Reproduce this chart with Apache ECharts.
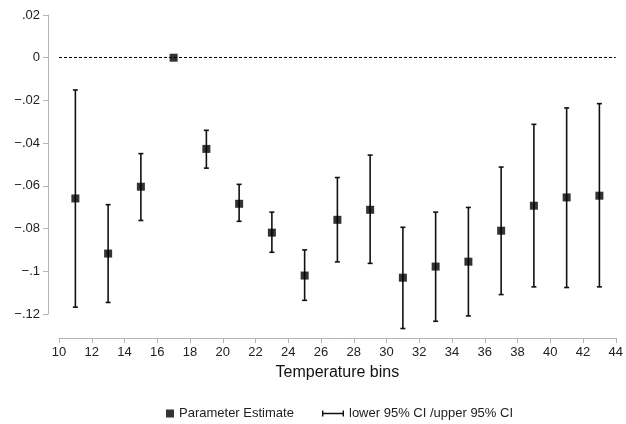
<!DOCTYPE html>
<html><head><meta charset="utf-8">
<script src="https://cdn.jsdelivr.net/npm/echarts@6/dist/echarts.min.js"></script>
<style>html,body{margin:0;padding:0;background:#fff}#c{width:626px;height:424px}</style>
</head><body><div id="c"></div>
<script>
const bins = [11, 13, 15, 17, 19, 21, 23, 25, 27, 29, 31, 33, 35, 37, 39, 41, 43];
const estimates = [-0.0659, -0.0917, -0.0604, 0, -0.0427, -0.0684, -0.0819, -0.1020, -0.0759, -0.0712, -0.1030, -0.0978, -0.0955, -0.0810, -0.0693, -0.0654, -0.0646];
const upperCI = [-0.0151, -0.0688, -0.0449, null, -0.0340, -0.0593, -0.0723, -0.0900, -0.0561, -0.0456, -0.0794, -0.0723, -0.0701, -0.0512, -0.0312, -0.0235, -0.0215];
const lowerCI = [-0.1168, -0.1146, -0.0762, null, -0.0517, -0.0766, -0.0911, -0.1136, -0.0956, -0.0963, -0.1268, -0.1234, -0.1209, -0.1109, -0.1073, -0.1076, -0.1073];
const yTicks = [0.02, 0, -0.02, -0.04, -0.06, -0.08, -0.1, -0.12];
const xTicks = [10, 12, 14, 16, 18, 20, 22, 24, 26, 28, 30, 32, 34, 36, 38, 40, 42, 44];

const FONT = '"Liberation Sans", Arial, sans-serif';
function fmtY(v) {
  if (Math.abs(v) < 1e-9) return '0';
  let s = String(Math.abs(+v.toFixed(4))).replace(/^0/, '');
  return (v < 0 ? '\u2212' : '') + s;
}
const ciData = bins.map((b, i) => [b, lowerCI[i], upperCI[i]]).filter(d => d[1] !== null);
const ptData = bins.map((b, i) => [b, estimates[i]]);

const chart = echarts.init(document.getElementById('c'), null, {renderer: 'canvas'});
chart.setOption({
  animation: false,
  backgroundColor: '#fff',
  textStyle: {fontFamily: FONT},
  grid: {left: 59, right: 4, top: 15, bottom: 110, containLabel: false},
  xAxis: {
    type: 'value', min: xTicks[0], max: xTicks[xTicks.length - 1], interval: 2,
    offset: 24,
    axisLine: {show: true, onZero: false, lineStyle: {color: '#b5b5b5', width: 1}},
    axisTick: {show: true, length: 5, lineStyle: {color: '#b5b5b5'}},
    axisLabel: {color: '#222', fontSize: 13, margin: 8, fontFamily: FONT},
    splitLine: {show: false},
    name: 'Temperature bins', nameLocation: 'middle', nameGap: 27,
    nameTextStyle: {color: '#111', fontSize: 16, fontFamily: FONT}
  },
  yAxis: {
    type: 'value', min: yTicks[yTicks.length - 1], max: yTicks[0], interval: 0.02,
    offset: 11,
    axisLine: {show: true, onZero: false, lineStyle: {color: '#b5b5b5', width: 1}},
    axisTick: {show: true, length: 5, lineStyle: {color: '#b5b5b5'}},
    axisLabel: {color: '#222', fontSize: 13, margin: 8, fontFamily: FONT, formatter: fmtY},
    splitLine: {show: false}
  },
  legend: [
    {data: ['Parameter Estimate'], left: 161, top: 402, itemWidth: 8, itemHeight: 8, itemGap: 6,
     textStyle: {color: '#222', fontSize: 13, fontFamily: FONT}},
    {data: [{name: 'lower 95% CI /upper 95% CI', icon: 'path://M0,0L1.4,0L1.4,2.3L20.6,2.3L20.6,0L22,0L22,6L20.6,6L20.6,3.7L1.4,3.7L1.4,6L0,6Z'}],
     left: 317, top: 402, itemWidth: 22, itemHeight: 6, itemGap: 8,
     textStyle: {color: '#222', fontSize: 13, fontFamily: FONT}}
  ],
  series: [
    {
      name: 'lower 95% CI /upper 95% CI', type: 'custom', clip: false,
      itemStyle: {color: '#111'},
      data: ciData,
      renderItem: function (params, api) {
        const x = api.value(0);
        const lo = api.coord([x, api.value(1)]);
        const hi = api.coord([x, api.value(2)]);
        const hw = 2.5;
        const st = {stroke: '#111', lineWidth: 1.6};
        return {type: 'group', children: [
          {type: 'line', shape: {x1: lo[0], y1: lo[1], x2: hi[0], y2: hi[1]}, style: st},
          {type: 'line', shape: {x1: lo[0] - hw, y1: lo[1], x2: lo[0] + hw, y2: lo[1]}, style: st},
          {type: 'line', shape: {x1: hi[0] - hw, y1: hi[1], x2: hi[0] + hw, y2: hi[1]}, style: st}
        ]};
      },
      z: 2
    },
    {
      name: 'Parameter Estimate', type: 'scatter', symbol: 'rect', symbolSize: 8,
      itemStyle: {color: '#000'},
      data: ptData, z: 3,
      markLine: {
        silent: true, symbol: 'none', label: {show: false},
        lineStyle: {color: '#000', type: [3, 2], width: 1},
        data: [{yAxis: 0}]
      }
    }
  ]
});
</script></body></html>
